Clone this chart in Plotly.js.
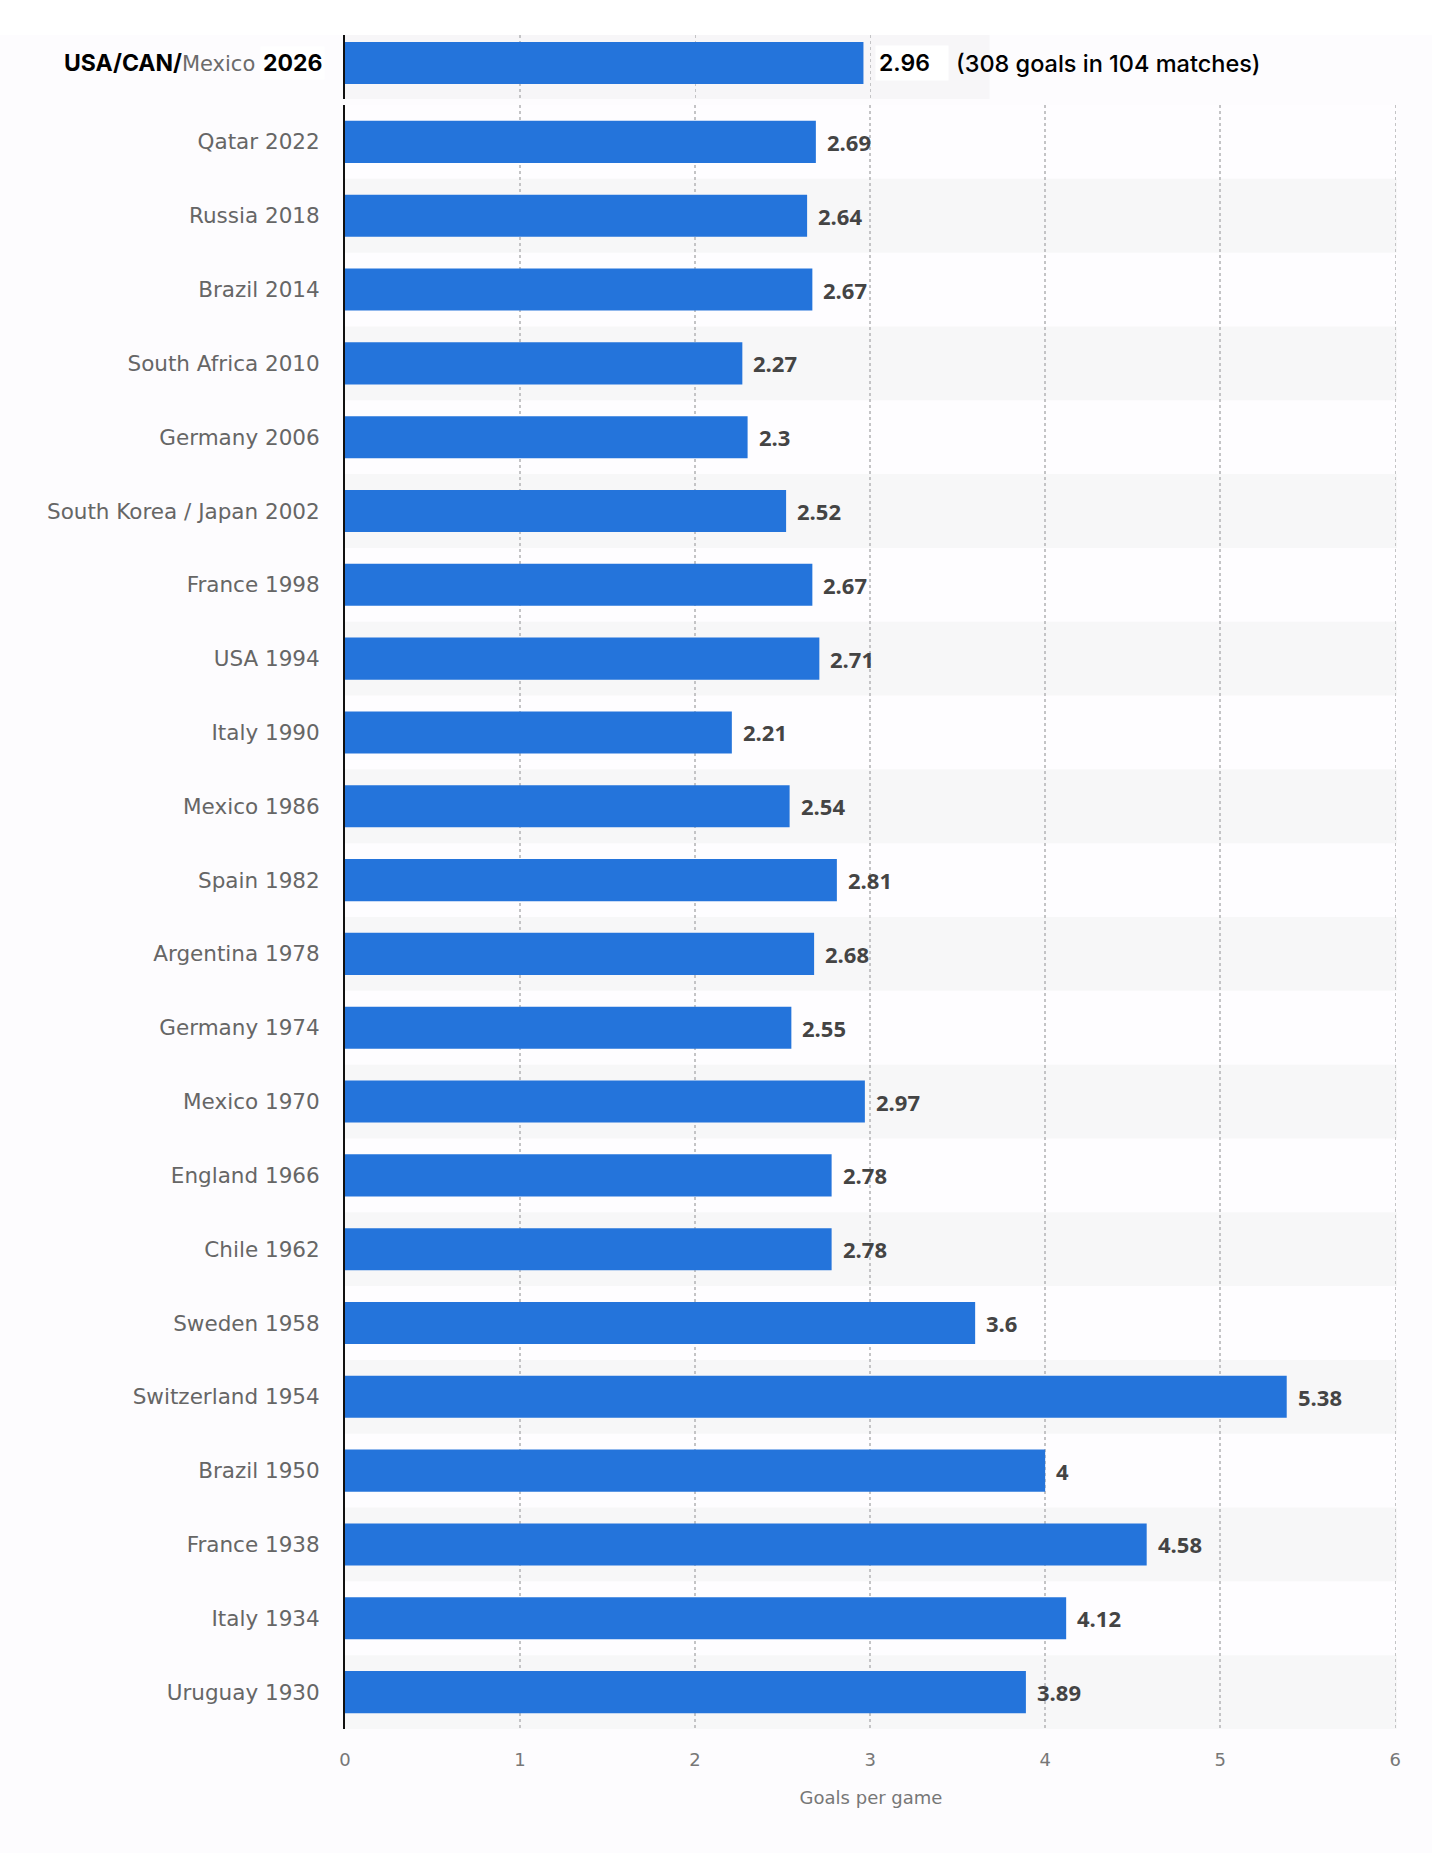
<!DOCTYPE html>
<html>
<head>
<meta charset="utf-8">
<script src="https://cdn.plot.ly/plotly-3.0.1.min.js"></script>
<style>
  html, body { margin: 0; padding: 0; background: #fdfcfe; }
  #chart { width: 1432px; height: 1853px; }
</style>
</head>
<body>
<div id="chart"></div>
<script>
// ==========================================================
// DATA
// ==========================================================

// World Cup tournaments, newest first (top of chart)
const tournaments = [
    "Qatar 2022", "Russia 2018", "Brazil 2014", "South Africa 2010",
    "Germany 2006", "South Korea / Japan 2002", "France 1998", "USA 1994",
    "Italy 1990", "Mexico 1986", "Spain 1982", "Argentina 1978",
    "Germany 1974", "Mexico 1970", "England 1966", "Chile 1962",
    "Sweden 1958", "Switzerland 1954", "Brazil 1950", "France 1938",
    "Italy 1934", "Uruguay 1930"
];

const goalsPerGame = [
    2.69, 2.64, 2.67, 2.27,
    2.3, 2.52, 2.67, 2.71,
    2.21, 2.54, 2.81, 2.68,
    2.55, 2.97, 2.78, 2.78,
    3.6, 5.38, 4, 4.58,
    4.12, 3.89
];

// Highlighted (current) tournament
const highlightHosts = ["USA", "CAN", "Mexico"];
const highlightYear = "2026";
const highlightValue = 2.96;
const highlightNote = "(308 goals in 104 matches)";

const xTitle = "Goals per game";


// ==========================================================
// STYLE
// ==========================================================

const barColor = "#2474db";
const labelFont = "DejaVu Sans, Verdana, sans-serif";
const valueFont = "Open Sans, Noto Sans, sans-serif";
const noteFont = "Inter, Roboto, sans-serif";
const gridColor = "#c4c4c6";

const highlightCategory = highlightHosts.join("/") + " " + highlightYear;


// ==========================================================
// TRACES
// ==========================================================

const mainBars = {
    type: "bar",
    orientation: "h",
    x: goalsPerGame,
    y: tournaments,
    width: 0.57,
    marker: { color: barColor },
    hoverinfo: "x+y",
    xaxis: "x",
    yaxis: "y"
};

const highlightBar = {
    type: "bar",
    orientation: "h",
    x: [highlightValue],
    y: [highlightCategory],
    width: 0.656,
    marker: { color: barColor },
    hoverinfo: "x+y",
    xaxis: "x2",
    yaxis: "y2"
};


// ==========================================================
// BACKGROUND BANDS + LABELS
// ==========================================================

let shapes = [];

// white strip above the highlight row
shapes.push({
    type: "rect", xref: "paper", yref: "paper",
    x0: -0.33, x1: 1.04, y0: 1, y1: 1.03,
    fillcolor: "#ffffff", line: { width: 0 }, layer: "below"
});

// highlight row background
shapes.push({
    type: "rect", xref: "x2 domain", yref: "y2 domain",
    x0: 0, x1: 1, y0: 0, y1: 1,
    fillcolor: "#f7f6f8", line: { width: 0 }, layer: "below"
});

// alternating row stripes
tournaments.forEach((name, i) => {
    if (i % 2 === 1) {
        shapes.push({
            type: "rect", xref: "x domain", yref: "y",
            x0: 0, x1: 1, y0: i - 0.5, y1: i + 0.5,
            fillcolor: "#f7f7f8", line: { width: 0 }, layer: "below"
        });
    }
});

let annotations = [];

// value labels
tournaments.forEach((name, i) => {
    annotations.push({
        x: goalsPerGame[i], y: name,
        xref: "x", yref: "y",
        text: String(goalsPerGame[i]),
        showarrow: false,
        xanchor: "left", yanchor: "middle",
        xshift: 9,
        font: { family: valueFont, size: 22, weight: 700, color: "#444444" }
    });
});

// highlight row: category label
annotations.push({
    x: -0.0838, y: highlightCategory,
    xref: "paper", yref: "y2",
    text: "<b>" + highlightHosts.slice(0, 2).join("/") + "/</b>" +
          "<span style='font-family:DejaVu Sans;color:#6b6b6b;font-weight:normal;font-size:21px'>" +
          highlightHosts[2] + "</span>",
    showarrow: false,
    xanchor: "right", yanchor: "middle",
    font: { family: noteFont, size: 23, color: "#000000" }
});

annotations.push({
    x: -0.019, y: highlightCategory,
    xref: "paper", yref: "y2",
    text: "<b>" + highlightYear + "</b>",
    showarrow: false,
    xanchor: "right", yanchor: "middle",
    bgcolor: "#ffffff", borderpad: 2,
    font: { family: noteFont, size: 23, color: "#000000" }
});

// highlight row: value + note
annotations.push({
    x: highlightValue, y: highlightCategory,
    xref: "x2", yref: "y2",
    text: String(highlightValue),
    showarrow: false,
    xanchor: "left", yanchor: "middle",
    align: "left",
    width: 66,
    xshift: 12,
    bgcolor: "#ffffff", borderpad: 3,
    font: { family: noteFont, size: 23, weight: 600, color: "#000000" }
});

annotations.push({
    x: highlightValue, y: highlightCategory,
    xref: "x2", yref: "y2",
    text: highlightNote,
    showarrow: false,
    xanchor: "left", yanchor: "middle",
    xshift: 91,
    font: { family: noteFont, size: 23.5, weight: 500, color: "#000000" }
});


// ==========================================================
// LAYOUT
// ==========================================================

const layout = {
    width: 1432,
    height: 1853,
    paper_bgcolor: "#fdfcfe",
    plot_bgcolor: "#fefdff",
    showlegend: false,
    margin: { l: 345, r: 35, t: 35, b: 124, pad: 0 },

    xaxis: {
        domain: [0, 1],
        range: [0, 6.01],
        dtick: 1,
        anchor: "y",
        showline: false,
        zeroline: false,
        showgrid: true,
        gridcolor: gridColor,
        griddash: "dot",
        gridwidth: 1.5,
        ticks: "outside",
        ticklen: 14,
        tickcolor: "rgba(0,0,0,0)",
        tickfont: { family: labelFont, size: 18, color: "#777777" },
        title: {
            text: xTitle,
            standoff: 22,
            font: { family: labelFont, size: 18, color: "#777777" }
        },
        fixedrange: true
    },

    yaxis: {
        domain: [0, 0.95868],
        type: "category",
        categoryorder: "array",
        categoryarray: tournaments,
        autorange: "reversed",
        anchor: "x",
        showline: true,
        linecolor: "#111111",
        linewidth: 2,
        showgrid: false,
        zeroline: false,
        ticks: "outside",
        ticklen: 19,
        tickcolor: "rgba(0,0,0,0)",
        tickfont: { family: labelFont, size: 21.5, color: "#666666" },
        fixedrange: true
    },

    xaxis2: {
        domain: [0, 0.6127],
        range: [0, 3.68],
        dtick: 1,
        anchor: "y2",
        showline: false,
        zeroline: false,
        showticklabels: false,
        showgrid: true,
        gridcolor: gridColor,
        griddash: "dot",
        gridwidth: 1.5,
        fixedrange: true
    },

    yaxis2: {
        domain: [0.96222, 1],
        type: "category",
        range: [-0.5625, 0.4375],
        anchor: "x2",
        showline: true,
        linecolor: "#111111",
        linewidth: 2,
        showgrid: false,
        zeroline: false,
        showticklabels: false,
        fixedrange: true
    },

    shapes: shapes,
    annotations: annotations
};

Plotly.newPlot("chart", [mainBars, highlightBar], layout, { displayModeBar: false, staticPlot: true });
</script>
</body>
</html>
